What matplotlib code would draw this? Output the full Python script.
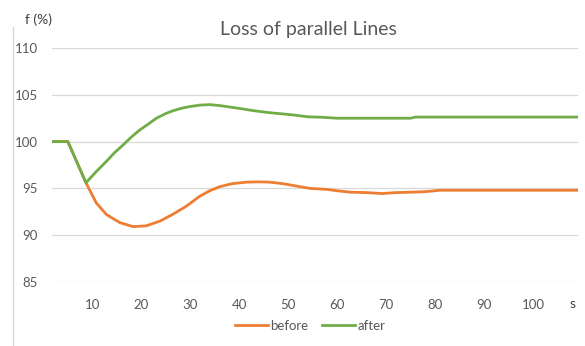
import matplotlib
matplotlib.use("Agg")
import matplotlib.pyplot as plt
from matplotlib.lines import Line2D

# Frequency response after loss of parallel lines
t_before = [1.7, 5, 8.7, 10.8, 12.9, 15.6, 18.3, 21, 23.8, 26.5, 29.2, 31.9, 34, 36,
            38.5, 41.5, 44, 46.2, 49, 51.7, 54.5, 57.8, 60, 62.6, 66, 69.3, 70.5, 72,
            75.5, 78, 81, 90, 100, 109]
f_before = [100, 100, 95.6, 93.45, 92.2, 91.35, 90.92, 91.0, 91.5, 92.25, 93.1, 94.15,
            94.75, 95.18, 95.5, 95.67, 95.7, 95.67, 95.5, 95.25, 95.0, 94.9, 94.75, 94.6,
            94.55, 94.45, 94.5, 94.55, 94.6, 94.65, 94.8, 94.8, 94.8, 94.8]

t_after = [1.7, 5, 8.7, 10.8, 12.9, 14.5, 16.3, 18, 19.7, 21.5, 23.1, 25, 26.5, 28.5,
           30, 32, 34, 36, 38, 40, 43, 46, 48, 51, 54, 57, 60, 63, 66, 70, 75, 76, 80,
           90, 100, 109]
f_after = [100, 100, 95.6, 96.8, 97.9, 98.8, 99.65, 100.5, 101.25, 101.9, 102.5, 103.0,
           103.3, 103.6, 103.75, 103.9, 103.95, 103.85, 103.7, 103.55, 103.3, 103.1,
           103.0, 102.85, 102.65, 102.6, 102.5, 102.5, 102.5, 102.5, 102.5, 102.62,
           102.62, 102.62, 102.62, 102.62]

x_ticks = [10, 20, 30, 40, 50, 60, 70, 80, 90, 100]
y_ticks = [85, 90, 95, 100, 105, 110]
series_names = ["before", "after"]
title = "Loss of parallel Lines"

ORANGE = "#ED7D31"
GREEN = "#70AD47"
GRID = "#d9d9d9"
TXT = "#595959"
FONT = "Lato"

plt.rcParams["font.family"] = [FONT, "DejaVu Sans"]

fig = plt.figure(figsize=(5.85, 3.46), dpi=100)
ax = fig.add_axes([51.7 / 585, 1 - 282 / 346, (577.5 - 51.7) / 585, (282 - 48) / 346])

l1, = ax.plot(t_before, f_before, color=ORANGE, lw=2.0, solid_joinstyle="round", zorder=3)
l2, = ax.plot(t_after, f_after, color=GREEN, lw=2.0, solid_joinstyle="round", zorder=4)

ax.set_xlim(1.7, 109.1)
ax.set_ylim(85, 110)
ax.set_xticks(x_ticks)
ax.set_yticks(y_ticks)
ax.tick_params(axis="both", length=0, labelsize=9.5, labelcolor=TXT)
ax.tick_params(axis="y", pad=10)
ax.tick_params(axis="x", pad=12)
ax.yaxis.grid(True, color=GRID, lw=0.9)
ax.set_axisbelow(True)
for sp in ax.spines.values():
    sp.set_visible(False)

fig.text(308.5 / 585, 1 - 30 / 346, title, ha="center", va="center",
         fontsize=14, color=TXT)
fig.text(25 / 585, 1 - 20 / 346, "f (%)", ha="left", va="center",
         fontsize=10, color="#404040")
fig.text(573 / 585, 1 - 304 / 346, "s", ha="center", va="center",
         fontsize=10, color="#404040")

fig.add_artist(Line2D([13 / 585, 13 / 585], [0, 1 - 27 / 346], color=GRID, lw=1))

fig.legend([l1, l2], series_names, loc="center", bbox_to_anchor=(310 / 585, 1 - 326 / 346),
           ncol=2, frameon=False, fontsize=9.5, labelcolor=TXT, handlelength=2.5,
           handletextpad=0.2, columnspacing=1.0)

fig.savefig("out.png", dpi=100)
